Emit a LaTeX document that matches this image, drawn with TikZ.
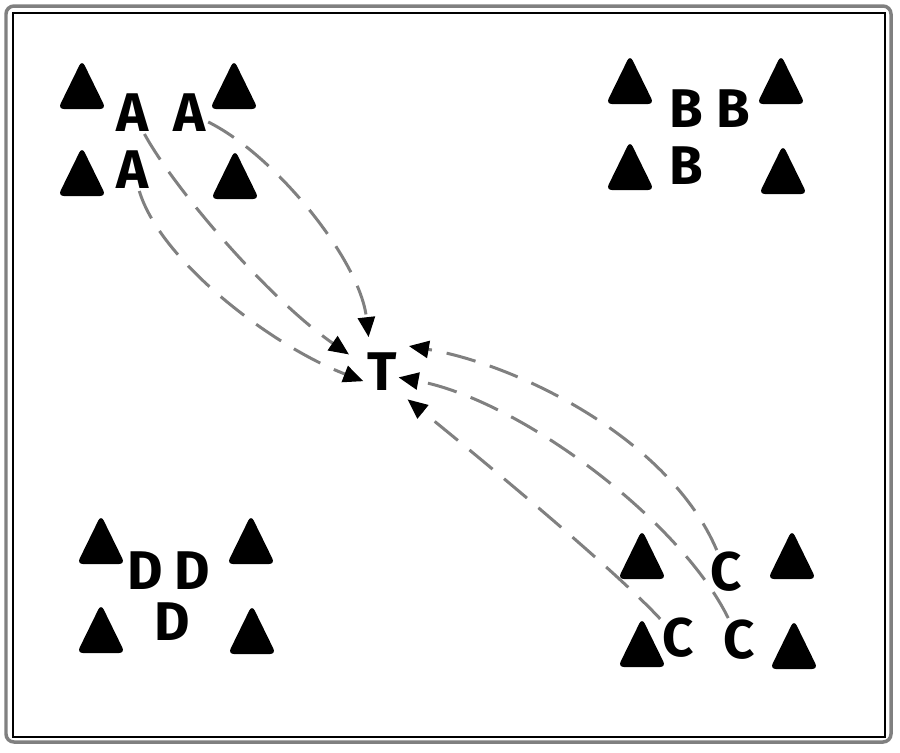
\documentclass[tikz,border=0pt]{standalone}
\usepackage{fontspec}
\setsansfont{Fira Sans}
\usetikzlibrary{arrows.meta}

\begin{document}
\begin{tikzpicture}[x=0.02cm, y=-0.02cm, cone/.style={fill=black, rounded corners=0.12cm}, main node/.style={inner sep=1pt, font=\sffamily\bfseries\fontsize{31}{32}\selectfont}, flow/.style={draw=black!50, line width=0.06cm, dash pattern=on 0.6cm off 0.3cm, -{Triangle[length=0.4cm, width=0.34cm, color=black]}}]
\useasboundingbox (0,0) rectangle (900,752);
\draw[black!50, line width=0.07cm, rounded corners=0.16cm] (6,6) rectangle (891,742);
\draw[line width=0.03cm] (13,13) rectangle (885,737);
%cones
\foreach \x/\y in {82/85, 234/85, 82/172, 235/175, 630/80, 781/80, 630/166, 783/170, 101/540, 251/540, 101/629, 252/630, 642/555, 792/555, 642/643, 794/645}
  \fill[cone] (\x-24,\y+24) -- (\x,\y-25) -- (\x+24,\y+24) -- cycle;
\begin{scope}[every node/.style={main node}]
\node (a1) at (133,113) {A};
\node (a2) at (190,113) {A};
\node (a3) at (133,170) {A};
\node (b1) at (686,109) {B};
\node (b2) at (733,109) {B};
\node (b3) at (686,166) {B};
\node (c1) at (726,572) {C};
\node (c2) at (678,638) {C};
\node (c3) at (739,640) {C};
\node (d1) at (145,571) {D};
\node (d2) at (192,571) {D};
\node (d3) at (172,622) {D};
\node[circle, minimum size=1.48cm] (t) at (382,372) {T};
\end{scope}
%runs to T
\begin{scope}[every path/.style={flow}]
\draw (a2) .. controls (275,155) and (360,260) .. (t.111);
\draw (a1) .. controls (175,190) and (270,300) .. (t.152);
\draw[shorten >=-0.4cm] (a3) .. controls (160,260) and (270,345) .. (t.183);
\draw (c1) .. controls (670,440) and (520,365) .. (t.44);
\draw[shorten >=-0.4cm] (c3) .. controls (680,520) and (520,400) .. (t.-14);
\draw (c2) .. controls (610,565) and (470,450) .. (t.-47);
\end{scope}
\end{tikzpicture}
\end{document}
